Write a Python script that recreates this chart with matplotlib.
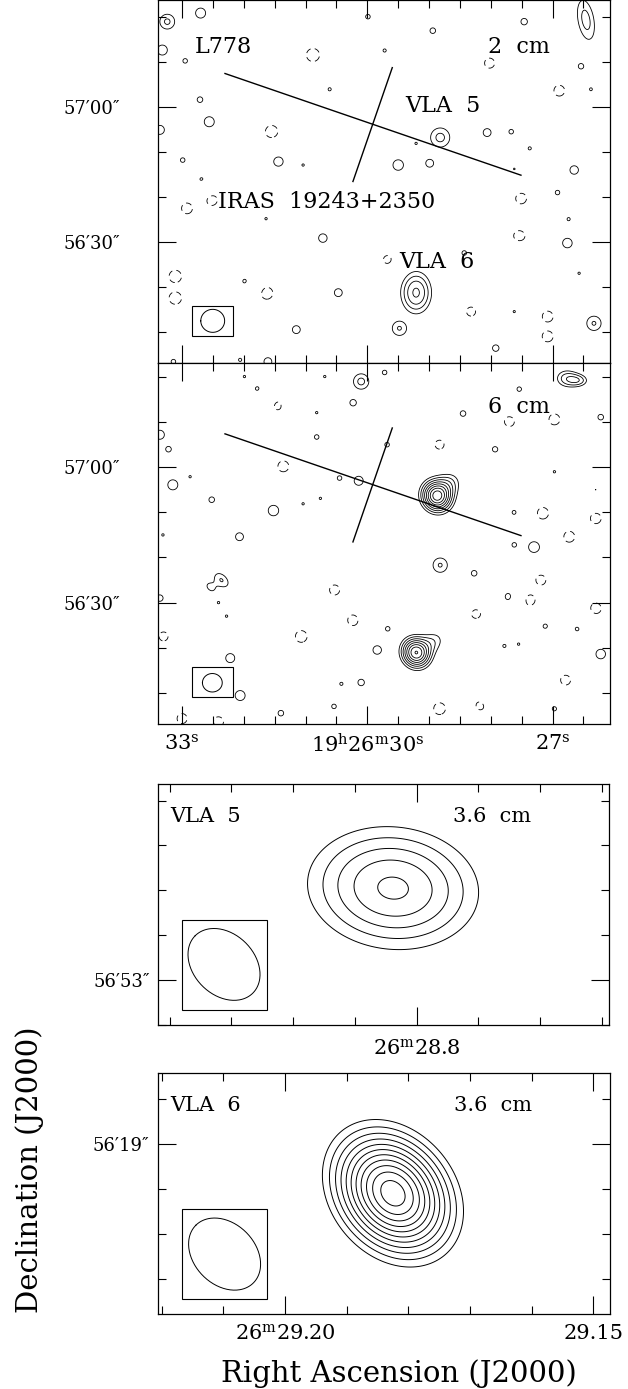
import numpy as np
import matplotlib
matplotlib.use('Agg')
import matplotlib.pyplot as plt
from matplotlib.patches import Rectangle
from matplotlib.ticker import FixedLocator, MultipleLocator, FixedFormatter, NullFormatter

plt.rcParams['font.family'] = ['DejaVu Serif']
plt.rcParams['mathtext.fontset'] = 'dejavuserif'

COSDEC = np.cos(np.radians(23.94))

# --- 2 cm map: RA seconds (19h26m), Dec arcsec above +23d56m ---
src2_ra = [29.21, 28.82, 26.46]
src2_dec = [18.8, 53.2, 79.3]
src2_amp = [6.2, 4.3, 4.4]
src2_smaj = [3.9, 2.5, 5.0]
src2_smin = [2.85, 2.5, 2.0]
src2_pa = [0, 0, 10]

noise2_ra = [33.24, 32.70, 33.32, 32.95, 30.88, 29.72, 29.99, 28.94, 27.46, 28.02,
             26.54, 26.89, 26.38, 30.61, 32.71, 32.56, 33.36, 31.55, 31.44, 28.06,
             27.67, 29.21, 27.37, 29.50, 28.99, 32.99, 31.04, 26.65, 32.68, 27.62,
             27.51, 26.92, 32.92, 32.52, 30.72, 31.64, 26.74, 27.54, 26.76, 27.57,
             29.67, 28.43, 33.11, 33.11, 31.98, 31.63, 30.47, 29.48, 31.15, 28.32,
             27.62, 27.08, 27.08, 26.57, 26.33, 27.92, 33.14, 32.06, 31.61]
noise2_dec = [78.9, 80.8, 72.6, 70.2, 71.5, 72.5, 80.0, 76.9, 78.9, 69.7,
              69.0, 63.6, 63.9, 63.9, 61.6, 56.7, 54.9, 54.5, 47.9, 54.3,
              54.5, 51.9, 50.8, 47.1, 47.5, 48.2, 47.1, 46.0, 43.8, 46.2,
              39.7, 41.0, 37.5, 39.4, 30.9, 35.2, 35.1, 31.2, 29.8, 26.4,
              26.1, 27.6, 22.4, 17.6, 21.3, 18.7, 18.8, 10.9, 10.6, 14.6,
              14.6, 13.5, 9.1, 23.1, 12.0, 6.5, 3.5, 3.9, 3.5]
noise2_amp = [4.2, 3.5, 3.5, 3.1, -3.9, 3.05, 3.1, 3.15, 3.2, -3.5,
              3.15, -3.6, 3.05, 3.05, 3.15, 3.5, 3.4, -3.8, 3.45, 3.3,
              3.1, 3.03, 3.05, 3.55, 3.3, 3.1, 3.03, 3.35, 3.2, 3.03,
              -3.6, 3.1, -3.6, -3.7, 3.35, 3.03, 3.05, -3.8, 3.45, 3.15,
              -3.4, 3.1, -3.8, -3.8, 3.15, -3.8, 3.3, 4.1, 3.3, -3.4,
              3.03, -3.6, -3.6, 3.03, 4.1, 3.2, 3.1, 3.05, 3.3]

# --- 6 cm map ---
src6_ra = [28.875, 28.62, 29.21, 28.88, 26.78, 26.55, 32.36, 32.55]
src6_dec = [53.6, 57.0, 18.9, 21.8, 79.7, 79.2, 35.0, 33.3]
src6_amp = [10.5, 2.6, 10.0, 2.8, 4.3, 3.3, 4.05, 3.1]
src6_smaj = [2.7, 2.2, 2.6, 2.0, 2.2, 1.8, 2.2, 1.6]
src6_smin = [2.5, 2.2, 2.4, 2.0, 1.8, 1.2, 1.4, 1.0]
src6_pa = [30, 0, 30, 0, 90, 90, 45, 45]

noise6_ra = [30.10, 31.78, 31.99, 30.69, 29.72, 27.54, 31.44, 31.07, 30.23, 30.82,
             28.45, 26.22, 27.70, 26.97, 33.36, 33.22, 30.82, 29.68, 28.83, 27.93,
             31.36, 32.87, 33.15, 30.45, 30.14, 26.97, 26.30, 32.52, 31.04, 30.76,
             31.52, 27.62, 27.16, 26.30, 32.07, 33.31, 26.73, 27.62, 27.30, 28.82,
             28.27, 30.53, 28.43, 28.14, 27.70, 27.38, 27.19, 33.36, 32.41,
             32.28, 29.81, 30.23, 28.24, 26.30, 29.67, 27.12, 26.60, 33.30, 31.07,
             29.84, 27.78, 27.55, 26.22, 32.22, 32.06, 30.42, 30.10, 26.79, 27.92,
             30.54, 31.40, 28.83, 28.16, 33.00, 32.41, 26.97]
noise6_dec = [79.0, 77.4, 80.1, 80.1, 81.0, 77.3, 73.6, 74.0, 74.3, 72.1,
              71.9, 71.1, 70.1, 70.6, 67.2, 64.0, 66.7, 65.0, 65.0, 64.0,
              60.2, 57.9, 56.1, 57.6, 57.0, 59.0, 55.0, 52.8, 51.9, 53.1,
              50.4, 50.0, 49.8, 48.7, 44.6, 45.0, 44.6, 42.8, 42.3, 38.3,
              36.5, 32.8, 32.4, 32.8, 31.3, 30.6, 35.0, 31.0, 30.0,
              27.0, 27.9, 26.1, 27.6, 28.7, 24.2, 24.8, 24.2, 22.5, 22.5,
              19.5, 20.4, 20.8, 18.6, 17.7, 9.4, 12.0, 12.3, 12.8, 10.0,
              7.0, 5.5, 6.5, 7.3, 4.3, 3.6, 6.5]
noise6_amp = [4.3, 3.1, 3.03, 3.03, 3.1, 3.1, -3.4, 3.1, 3.2, 3.03,
              3.15, 3.15, -3.5, -3.6, 3.4, 3.15, 3.1, 3.1, -3.4, 3.15,
              -3.6, 3.03, 3.5, 3.1, 3.4, 3.03, 3.03, 3.15, 3.03, 3.03,
              3.55, 3.1, -3.7, -3.6, 3.3, 3.03, -3.6, 3.1, 3.6, 4.1,
              3.15, -3.5, 3.05, 3.03, 3.45, -3.8, -3.5, 3.2, 3.03,
              3.03, 3.03, -3.6, -3.5, -3.6, 3.1, 3.1, 3.1, -3.4, -3.7,
              3.35, 3.05, 3.03, 3.45, 3.4, 3.5, 3.05, 3.2, -3.5, 3.03,
              3.1, 3.15, -3.7, -3.6, -3.5, -3.5, 3.1]

# --- 3.6 cm close-ups of VLA 5 and VLA 6: ra, dec, peak, sigma_maj, sigma_min, pa ---
vla5_comp = (28.8038, 53.205, 7.2, 0.144, 0.103, 84)
vla6_comp = (29.1825, 18.891, 13.6, 0.103, 0.080, 40)

# beams: (ra, dec, bmaj, bmin, pa)
beam2 = (32.504, 12.55, 5.3, 5.1, 90)
beam6 = (32.51, 12.24, 4.4, 4.1, 90)
beam36_v5 = (28.8312, 53.035, 0.181, 0.136, 45)
beam36_v6 = (29.2098, 18.756, 0.181, 0.136, 45)

# outflow axis and the perpendicular marker
outflow_ra = [32.305, 27.512]
outflow_dec = [67.4, 44.85]
cross_ra = [29.596, 30.233]
cross_dec = [68.7, 43.45]

levels_wide = [-4, -3] + list(range(3, 15))
levels_zoom = list(range(3, 15))
NOISE_SIG = 2.0


def gauss(RA, DEC, ra0, dec0, amp, smaj, smin, pa):
    dx = (RA - ra0) * 15 * COSDEC
    dy = DEC - dec0
    p = np.radians(pa)
    u = dx * np.sin(p) + dy * np.cos(p)
    v = dx * np.cos(p) - dy * np.sin(p)
    return amp * np.exp(-0.5 * ((u / smaj) ** 2 + (v / smin) ** 2))


def beam_curve(ra0, dec0, bmaj, bmin, pa):
    t = np.linspace(0, 2 * np.pi, 200)
    p = np.radians(pa)
    a, b = bmaj / 2, bmin / 2
    east = a * np.cos(t) * np.sin(p) + b * np.sin(t) * np.cos(p)
    north = a * np.cos(t) * np.cos(p) - b * np.sin(t) * np.sin(p)
    return ra0 + east / (15 * COSDEC), dec0 + north


def wide_map(src, noise):
    ra = np.arange(25.9, 33.6, 0.015)
    dec = np.arange(2.0, 85.0, 0.2)
    RA, DEC = np.meshgrid(ra, dec)
    Zsrc = np.zeros_like(RA)
    for r, d, a, sa, sb, pa in zip(*src):
        Zsrc += gauss(RA, DEC, r, d, a, sa, sb, pa)
    # noise peaks kept as separate islands (max / min, no blending)
    Zpos = Zsrc.copy()
    Zneg = np.zeros_like(RA)
    for r, d, a in zip(*noise):
        g = gauss(RA, DEC, r, d, a, NOISE_SIG, NOISE_SIG, 0)
        if a > 0:
            Zpos = np.maximum(Zpos, g)
        else:
            Zneg = np.minimum(Zneg, g)
    return RA, DEC, Zpos + Zneg


def style_axes(ax):
    for s in ax.spines.values():
        s.set_linewidth(0.9)
    ax.tick_params(which='both', direction='in', top=True, right=True, width=0.8)
    ax.tick_params(which='major', length=13)
    ax.tick_params(which='minor', length=6)


W, H = 628, 1389
fig = plt.figure(figsize=(W / 100, H / 100), dpi=100)


def px_axes(x0, y0, x1, y1):
    return fig.add_axes([x0 / W, 1 - y1 / H, (x1 - x0) / W, (y1 - y0) / H])


ax1 = px_axes(158, 0, 610, 363)
ax2 = px_axes(158, 363, 610, 724)
ax3 = px_axes(158, 784, 609, 1025)
ax4 = px_axes(158, 1073, 610, 1314)

neg_style = [(0, (7, 5)) if l < 0 else 'solid' for l in levels_wide]

for ax, src, noise, beam, ylim in [
        (ax1, (src2_ra, src2_dec, src2_amp, src2_smaj, src2_smin, src2_pa),
         (noise2_ra, noise2_dec, noise2_amp), beam2, (3.2, 83.7)),
        (ax2, (src6_ra, src6_dec, src6_amp, src6_smaj, src6_smin, src6_pa),
         (noise6_ra, noise6_dec, noise6_amp), beam6, (3.1, 83.1))]:
    RA, DEC, Z = wide_map(src, noise)
    ax.contour(RA, DEC, Z, levels=levels_wide, colors='k', linewidths=0.6,
               linestyles=neg_style)
    ax.plot(outflow_ra, outflow_dec, color='k', lw=1.0)
    ax.plot(cross_ra, cross_dec, color='k', lw=1.0)
    bx, by = beam_curve(*beam)
    ax.plot(bx, by, color='k', lw=0.7)
    ax.add_patch(Rectangle((0.0745, 0.0744), 0.092, 0.0826, transform=ax.transAxes,
                           fill=False, lw=0.8, color='k'))
    ax.set_xlim(33.39, 26.07)
    ax.set_ylim(*ylim)
    style_axes(ax)
    ax.xaxis.set_major_locator(FixedLocator([33, 30, 27]))
    ax.xaxis.set_minor_locator(MultipleLocator(0.5))
    ax.yaxis.set_major_locator(FixedLocator([30, 60]))
    ax.yaxis.set_minor_locator(MultipleLocator(10))
    ax.yaxis.set_major_formatter(FixedFormatter(['56\u203230\u2033', '57\u203200\u2033']))
    ax.tick_params(axis='y', which='major', labelsize=13, pad=27)

ax1.xaxis.set_major_formatter(NullFormatter())
ax2.xaxis.set_major_formatter(FixedFormatter(
    ['33$^{\\rm s}$', '19$^{\\rm h}$26$^{\\rm m}$30$^{\\rm s}$', '27$^{\\rm s}$']))
ax2.tick_params(axis='x', which='major', labelsize=15, pad=7)

ax1.text(0.082, 0.871, 'L778', transform=ax1.transAxes, fontsize=16, va='center')
ax1.text(0.730, 0.871, '2  cm', transform=ax1.transAxes, fontsize=16, va='center')
ax1.text(0.546, 0.708, 'VLA  5', transform=ax1.transAxes, fontsize=16, va='center')
ax1.text(0.133, 0.444, 'IRAS  19243+2350', transform=ax1.transAxes, fontsize=16, va='center')
ax1.text(0.533, 0.278, 'VLA  6', transform=ax1.transAxes, fontsize=16, va='center')
ax2.text(0.730, 0.878, '6  cm', transform=ax2.transAxes, fontsize=16, va='center')

# 3.6 cm close-ups
for ax, comp, beam, xlim, ylim, name in [
        (ax3, vla5_comp, beam36_v5, (28.8419, 28.7688), (52.90, 53.437), 'VLA  5'),
        (ax4, vla6_comp, beam36_v6, (29.2206, 29.1473), (18.623, 19.158), 'VLA  6')]:
    ra = np.linspace(xlim[1] - 0.002, xlim[0] + 0.002, 300)
    dec = np.linspace(ylim[0] - 0.02, ylim[1] + 0.02, 250)
    RA, DEC = np.meshgrid(ra, dec)
    Z = gauss(RA, DEC, *comp)
    ax.contour(RA, DEC, Z, levels=levels_zoom, colors='k', linewidths=0.7)
    bx, by = beam_curve(*beam)
    ax.plot(bx, by, color='k', lw=0.7)
    ax.add_patch(Rectangle((0.054, 0.062), 0.187, 0.373, transform=ax.transAxes,
                           fill=False, lw=0.8, color='k'))
    ax.set_xlim(*xlim)
    ax.set_ylim(*ylim)
    style_axes(ax)
    ax.xaxis.set_minor_locator(MultipleLocator(0.01))
    ax.yaxis.set_minor_locator(MultipleLocator(0.1))
    ax.tick_params(axis='y', which='major', labelsize=13, pad=6)
    ax.tick_params(axis='x', which='major', labelsize=15)
    ax.text(0.027, 0.867, name, transform=ax.transAxes, fontsize=15, va='center')
    ax.text(0.654, 0.867, '3.6  cm', transform=ax.transAxes, fontsize=15, va='center')

ax3.xaxis.set_major_locator(FixedLocator([28.8]))
ax3.xaxis.set_major_formatter(FixedFormatter(['26$^{\\rm m}$28.8']))
ax3.yaxis.set_major_locator(FixedLocator([53.0]))
ax3.yaxis.set_major_formatter(FixedFormatter(['56\u203253\u2033']))
ax3.tick_params(axis='x', which='major', pad=10)

ax4.xaxis.set_major_locator(FixedLocator([29.20, 29.15]))
ax4.xaxis.set_major_formatter(FixedFormatter(['26$^{\\rm m}$29.20', '29.15']))
ax4.yaxis.set_major_locator(FixedLocator([19.0]))
ax4.yaxis.set_major_formatter(FixedFormatter(['56\u203219\u2033']))
ax4.tick_params(axis='x', which='major', pad=7)

fig.text(30 / W, 1 - 1170 / H, 'Declination (J2000)', rotation=90,
         ha='center', va='center', fontsize=21)
fig.text(399 / W, 1 - 1382 / H, 'Right Ascension (J2000)',
         ha='center', va='baseline', fontsize=21)

fig.savefig('out.png', dpi=100)
